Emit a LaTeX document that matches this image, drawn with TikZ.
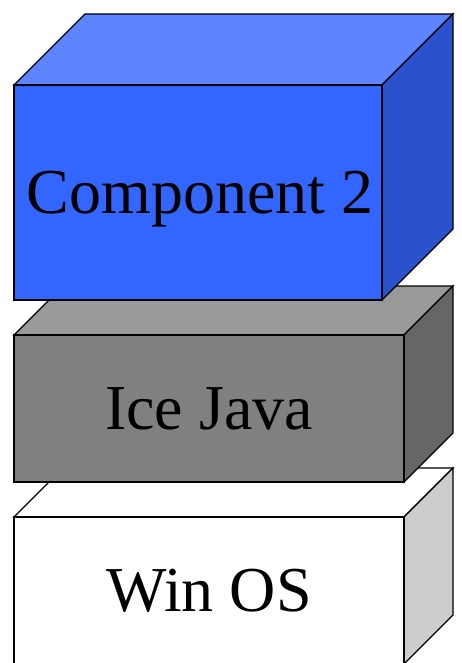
\documentclass[tikz,border=0pt]{standalone}
\usepackage{fontspec}
\setmainfont{Liberation Serif}
\definecolor{compfront}{HTML}{3366FF}
\definecolor{comptop}{HTML}{5C85FF}
\definecolor{compside}{HTML}{2952CC}
\definecolor{javafront}{HTML}{808080}
\definecolor{javatop}{HTML}{999999}
\definecolor{javaside}{HTML}{666666}
\definecolor{osside}{HTML}{CCCCCC}
\tikzset{
  face/.style={draw=black, line width=1.3pt, line join=miter},
  layertext/.style={font=\fontsize{64}{64}\selectfont, anchor=base, inner sep=0pt, text=black},
}
% one slab of the stack: left, top, right, bottom, depth, front/top/side colours
\newcommand{\layerbox}[8]{%
  \filldraw[face, fill=#7] (#1,#2) -- (#1+#5,#2-#5) -- (#3+#5,#2-#5) -- (#3,#2) -- cycle;
  \filldraw[face, fill=#8] (#3,#2) -- (#3+#5,#2-#5) -- (#3+#5,#4-#5) -- (#3,#4) -- cycle;
  \filldraw[face, fill=#6] (#1,#2) rectangle (#3,#4);
}

\begin{document}
\begin{tikzpicture}[x=1pt, y=-1pt]
  \useasboundingbox (0,0) rectangle (461,663);
  \clip (0,0) rectangle (461,663);
  % bottom to top, so each slab covers the one below
  \layerbox{14}{517}{404}{664}{49}{white}{white}{osside}
  \node[layertext] (os) at (209,611) {Win OS};
  \layerbox{14}{335}{404}{482}{49}{javafront}{javatop}{javaside}
  \node[layertext] (java) at (209,429) {Ice Java};
  \layerbox{14}{85}{382}{300}{71}{compfront}{comptop}{compside}
  \node[layertext] (comp) at (200,213) {Component 2};
\end{tikzpicture}
\end{document}
